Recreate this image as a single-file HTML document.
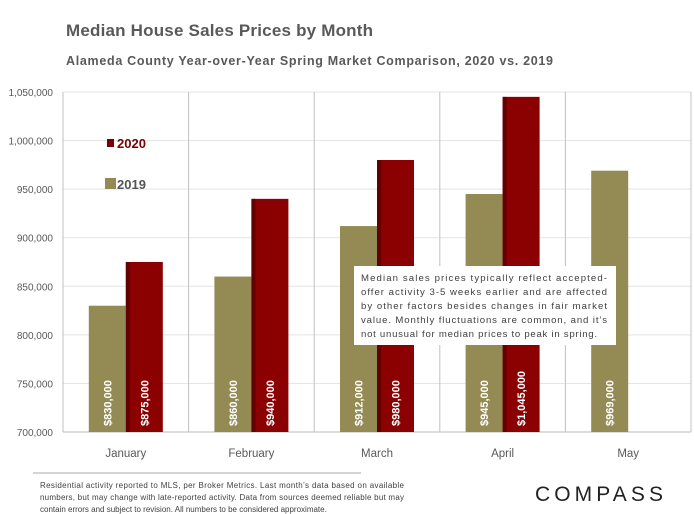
<!DOCTYPE html>
<html><head><meta charset="utf-8"><style>
body{margin:0;background:#fff;}
svg{display:block;font-family:"Liberation Sans",sans-serif;}
</style></head><body>
<svg id="c" width="694" height="514" viewBox="0 0 694 514">
<text x="66" y="36" font-size="17" font-weight="bold" fill="#595959" textLength="307">Median House Sales Prices by Month</text>
<text x="66" y="65" font-size="12.5" font-weight="bold" fill="#595959" textLength="487">Alameda County Year-over-Year  Spring Market Comparison,  2020 vs. 2019</text>
<g id="grid"></g><g id="bars"></g><g id="ylab"></g><g id="xlab"></g>
<rect x="107" y="139" width="7" height="8" fill="#7a0000"/>
<text x="117" y="148" font-size="13" font-weight="bold" fill="#7a0000">2020</text>
<rect x="105" y="178" width="11" height="11" fill="#948a54"/>
<text x="117" y="189" font-size="13" font-weight="bold" fill="#555">2019</text>
<g>
<rect x="354" y="266" width="262" height="79" fill="#fff"/>
<text font-size="9.6" fill="#404040">
<tspan x="361" y="281" textLength="246">Median sales prices typically reflect accepted-</tspan>
<tspan x="361" y="295" textLength="246">offer activity 3-5 weeks earlier and are affected</tspan>
<tspan x="361" y="309" textLength="246">by other factors besides changes in fair market</tspan>
<tspan x="361" y="323" textLength="246">value. Monthly fluctuations are common, and it’s</tspan>
<tspan x="361" y="337" textLength="236">not unusual for median prices to peak in spring.</tspan>
</text></g>
<line x1="33" y1="473" x2="361" y2="473" stroke="#aaa"/>
<text font-size="8" fill="#404040">
<tspan x="40" y="488" textLength="364">Residential activity reported to MLS, per Broker Metrics. Last month’s data based on available</tspan>
<tspan x="40" y="500" textLength="364">numbers, but may change with late-reported activity. Data from sources deemed reliable but may</tspan>
<tspan x="40" y="512">contain errors and subject to revision. All numbers to be considered approximate.</tspan>
</text>
<text x="535" y="501" font-size="21" letter-spacing="2" fill="#222" textLength="130">COMPASS</text>
</svg>
<script>
const months=["January","February","March","April","May"];
const v2019=[830000,860000,912000,945000,969000];
const v2020=[875000,940000,980000,1045000,null];
const l2019=["$830,000","$860,000","$912,000","$945,000","$969,000"];
const l2020=["$875,000","$940,000","$980,000","$1,045,000",""];
const ticks=[700000,750000,800000,850000,900000,950000,1000000,1050000];
const NS="http://www.w3.org/2000/svg";
const X0=63,X1=691,Y0=432,Y1=92,MIN=700000,MAX=1050000;
const y=v=>Y0-(v-MIN)/(MAX-MIN)*(Y0-Y1);
const cw=(X1-X0)/months.length;
const cx=i=>X0+cw*(i+0.5);
function mk(t,a,p){const e=document.createElementNS(NS,t);for(const k in a)e.setAttribute(k,a[k]);p.appendChild(e);return e;}
const G=document.getElementById('grid'),B=document.getElementById('bars'),YL=document.getElementById('ylab'),XL=document.getElementById('xlab');
ticks.forEach(t=>{
 const l=mk('line',{x1:X0,x2:X1,y1:y(t),y2:y(t),stroke:t==MIN?'#bbb':'#e3e3e3'},G);
 
 
 const tx=mk('text',{x:53,y:y(t)+4,'font-size':10,'text-anchor':'end',fill:'#595959'},YL);
 tx.textContent=t.toLocaleString('en-US');
 
 
});
for(let i=0;i<=months.length;i++){
 const l=mk('line',{x1:X0+cw*i,x2:X0+cw*i,y1:Y1,y2:Y0,stroke:'#c0c0c0'},G);
 
 
}
const bw=37;
months.forEach((m,i)=>{
 const c=cx(i);
 const r=mk('rect',{x:c-bw,y:y(v2019[i]),width:bw,height:Y0-y(v2019[i]),fill:'#948a54'},B);
 
 
 const t=mk('text',{transform:`translate(${c-bw/2+4},${Y0-6}) rotate(-90)`,'font-size':11,'font-weight':'bold',fill:'#fff'},B);
 t.textContent=l2019[i];
 
 
 if(v2020[i]!=null){
  const r2=mk('rect',{x:c,y:y(v2020[i]),width:bw,height:Y0-y(v2020[i]),fill:'#8b0000'},B);
  
  
  const sh=mk('rect',{x:c,y:y(v2020[i]),width:4,height:Y0-y(v2020[i]),fill:'#4a0000',opacity:0.6},B);
  
  
  const t2=mk('text',{transform:`translate(${c+bw/2+4},${Y0-6}) rotate(-90)`,'font-size':11,'font-weight':'bold',fill:'#fff'},B);
  t2.textContent=l2020[i];
  
  
 }
 const xl=mk('text',{x:c,y:457,'font-size':11.5,'text-anchor':'middle',fill:'#595959'},XL);
 xl.textContent=m;
 
 
});
</script>
</body></html>
